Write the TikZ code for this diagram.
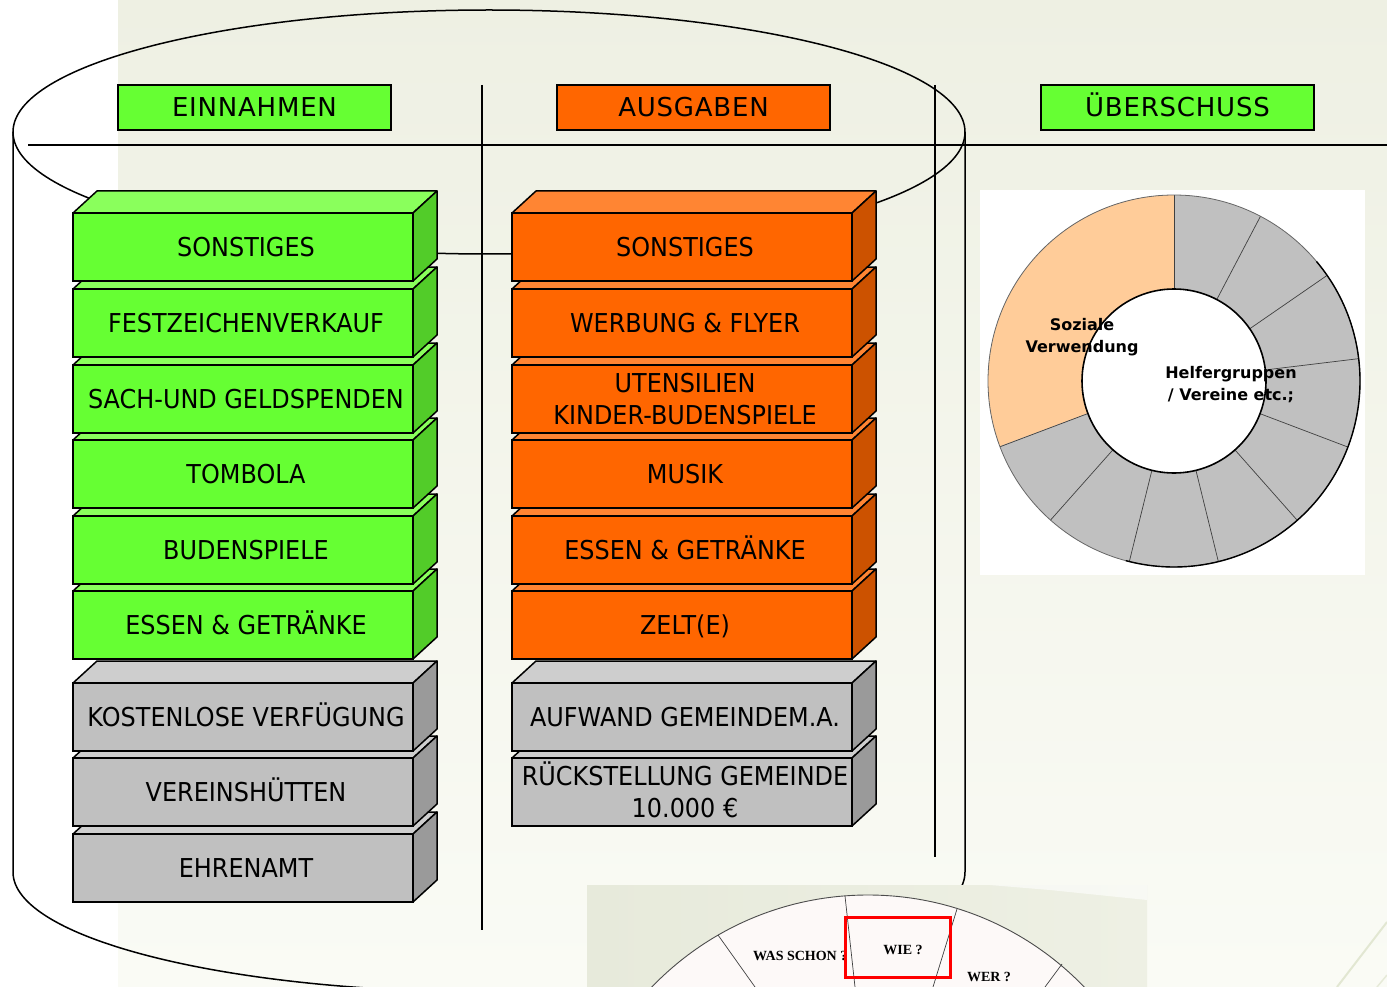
\documentclass[tikz,border=0pt]{standalone}
\usepackage{fontspec}
\setmainfont{DejaVu Sans}
\newfontfamily\bxfont{DejaVu Sans}[FakeStretch=0.92]
\newfontfamily\hdfont{DejaVu Sans}[LetterSpace=3]
\newfontfamily\whfont{Liberation Serif}
\definecolor{gfront}{HTML}{66FF33}
\definecolor{gtop}{HTML}{8AFF5C}
\definecolor{gside}{HTML}{52CC29}
\definecolor{ofront}{HTML}{FF6600}
\definecolor{otop}{HTML}{FF8533}
\definecolor{oside}{HTML}{CC5200}
\definecolor{yfront}{HTML}{C0C0C0}
\definecolor{ytop}{HTML}{CECECE}
\definecolor{yside}{HTML}{9A9A9A}
\definecolor{peach}{HTML}{FFCC99}
\definecolor{piegray}{HTML}{C0C0C0}
\definecolor{bgtop}{HTML}{EEF0E3}
\definecolor{bgbot}{HTML}{FAFBF5}
\definecolor{wheelbg}{HTML}{E7EADB}
\definecolor{wheelbg2}{HTML}{EEF0E4}
\definecolor{wheelfill}{HTML}{FDF9F8}
\definecolor{faintA}{HTML}{E2E7D2}
\definecolor{faintB}{HTML}{E6EAD8}
\tikzset{
  boxline/.style={draw=black, line width=1.5pt, line join=round},
  cube front/.style={draw=black, line width=1.5pt, anchor=north west, minimum width=340pt,
    minimum height=68pt, inner sep=0pt, outer sep=0pt, align=center,
    font=\bxfont\fontsize{26}{32}\selectfont, text=black, text height=19pt, text depth=0pt},
  two lines/.style={text height=51pt, text depth=0pt},
  hdr/.style={draw=black, line width=1.5pt, minimum width=273pt, minimum height=45pt,
    inner sep=0pt, font=\hdfont\fontsize{26}{32}\selectfont, text=black,
    text height=19pt, text depth=0pt},
  frame/.style={draw=black, line width=1.5pt},
  pielbl/.style={font=\bfseries\fontsize{16}{22}\selectfont, align=center, inner sep=0pt, text=black},
  whlbl/.style={font=\whfont\bfseries\fontsize{14}{16}\selectfont, inner sep=0pt, text=black},
  divider/.style={draw=black!75, line width=0.7pt}
}
\newcommand\cubebox[6][]{%
  \filldraw[fill=#5top, boxline] (#3,#4) -- ++(24,-22) -- ++(340,0) -- ++(-24,22) -- cycle;
  \filldraw[fill=#5side, boxline] (#3+340,#4) -- ++(24,-22) -- ++(0,68) -- ++(-24,22) -- cycle;
  \node[cube front, fill=#5front, #1] (#2) at (#3,#4) {\hspace*{6pt}#6};
}
\begin{document}
\begin{tikzpicture}[x=1pt,y=-1pt]
\useasboundingbox (0,0) rectangle (1387,987);
% background
\fill[white] (0,0) rectangle (1387,987);
\shade[top color=bgtop, bottom color=bgbot] (118,0) rectangle (1387,987);
\draw[faintA, line width=2pt] (1337,987) -- (1387,922);
\draw[faintB, line width=1.5pt] (1377,987) -- (1387,975);

% cylinder
\draw[frame] (489,132) ellipse [x radius=476pt, y radius=122pt];
\draw[frame] (13,132) -- (13,872) arc[start angle=180, end angle=360, x radius=476pt, y radius=120pt] -- (965,132);
% separators
\draw[frame] (28,145) -- (1387,145);
\draw[frame] (482,85) -- (482,930);
\draw[frame] (935,85) -- (935,857);

% headers
\node[hdr, fill=gfront] (ein) at (254.5,107.5) {EINNAHMEN};
\node[hdr, fill=ofront] (aus) at (693.5,107.5) {AUSGABEN};
\node[hdr, fill=gfront] (ueb) at (1177.5,107.5) {ÜBERSCHUSS};

% left column (bottom first)
\cubebox{l9}{73}{834}{y}{EHRENAMT}
\cubebox{l8}{73}{758}{y}{VEREINSHÜTTEN}
\cubebox{l7}{73}{683}{y}{KOSTENLOSE VERFÜGUNG}
\cubebox{l6}{73}{591}{g}{ESSEN \& GETRÄNKE}
\cubebox{l5}{73}{516}{g}{BUDENSPIELE}
\cubebox{l4}{73}{440}{g}{TOMBOLA}
\cubebox{l3}{73}{365}{g}{SACH-UND GELDSPENDEN}
\cubebox{l2}{73}{289}{g}{FESTZEICHENVERKAUF}
\cubebox{l1}{73}{213}{g}{SONSTIGES}

% right column (bottom first)
\cubebox[two lines]{r8}{512}{758}{y}{RÜCKSTELLUNG GEMEINDE\\\hspace*{6pt}10.000 €}
\cubebox{r7}{512}{683}{y}{AUFWAND GEMEINDEM.A.}
\cubebox{r6}{512}{591}{o}{ZELT(E)}
\cubebox{r5}{512}{516}{o}{ESSEN \& GETRÄNKE}
\cubebox{r4}{512}{440}{o}{MUSIK}
\cubebox[two lines]{r3}{512}{365}{o}{UTENSILIEN\\\hspace*{6pt}KINDER-BUDENSPIELE}
\cubebox{r2}{512}{289}{o}{WERBUNG \& FLYER}
\cubebox{r1}{512}{213}{o}{SONSTIGES}

% donut chart
\fill[white] (980,190) rectangle (1365,575);
\coordinate (pc) at (1174,381);
\fill[piegray] (pc) circle[radius=186pt];
\fill[peach] (pc) -- ++(90:186pt) arc[start angle=90, end angle=200.5, radius=186pt] -- cycle;
\foreach \a in {90,62.3,34.6,6.9,-20.8,-48.5,-76.2,-103.9,-131.6,-159.3}
  \draw[divider] (pc) ++(\a:92pt) -- ++(\a:94pt);
\draw[black!60, line width=0.8pt] (pc) circle[radius=186pt];
\draw[black, line width=1.4pt] (pc) ++(40:186pt) arc[start angle=40, end angle=-105, radius=186pt];
\fill[white] (pc) circle[radius=92pt];
\draw[black, line width=1.6pt] (pc) circle[radius=92pt];
\node[pielbl] (soz) at (1082,337) {Soziale\\Verwendung};
\node[pielbl] (helf) at (1231,385) {Helfergruppen\\/ Vereine etc.;};

% bottom wheel picture
\begin{scope}
\clip (587,885) rectangle (1147,987);
\shade[left color=wheelbg, right color=wheelbg2] (587,885) rectangle (1147,987);
\fill[white, opacity=0.6] (990,885) -- (1147,885) -- (1147,900) -- (1050,890) -- cycle;
\fill[wheelfill] (868,1195) circle[radius=300pt];
\draw[black!70, line width=0.9pt] (868,1195) circle[radius=300pt];
\node[whlbl, anchor=west] (was) at (753,956) {WAS SCHON ?};
\draw[divider] (718,935) -- (755,987);
\draw[divider] (845,896) -- (855,987);
\draw[divider] (957,909) -- (933,987);
\draw[divider] (1062,964) -- (1045,987);
\end{scope}
\node[whlbl] (wie) at (903,950) {WIE ?};
\node[whlbl] (wer) at (989,977) {WER ?};
\draw[red, line width=3pt] (845,917) rectangle (950,977);
\end{tikzpicture}
\end{document}
